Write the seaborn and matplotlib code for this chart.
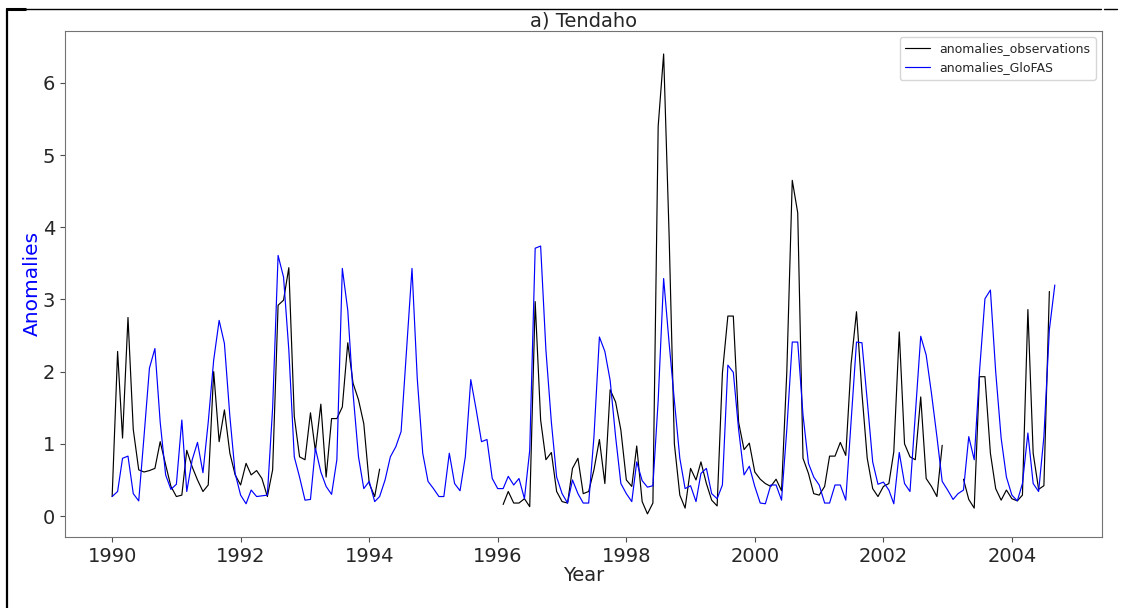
import matplotlib
matplotlib.use("Agg")
import matplotlib.pyplot as plt
import matplotlib.dates as mdates
from matplotlib.lines import Line2D
import numpy as np
import pandas as pd
import seaborn as sns

sns.set_style("white")
plt.rcParams["font.family"] = ["DejaVu Sans"]

# monthly series, Jan 1990 .. Sep 2004
start, n_months = "1990-01-01", 177

glofas = [
    0.27, 0.34, 0.80, 0.83, 0.31, 0.21, 1.10, 2.05, 2.32, 1.30, 0.57, 0.37,   # 1990
    0.44, 1.33, 0.34, 0.78, 1.02, 0.60, 1.30, 2.16, 2.71, 2.39, 1.38, 0.59,   # 1991
    0.29, 0.17, 0.36, 0.27, 0.28, 0.29, 1.50, 3.61, 3.31, 2.30, 0.82, 0.54,   # 1992
    0.22, 0.23, 0.94, 0.61, 0.41, 0.30, 0.78, 3.43, 2.85, 1.70, 0.82, 0.38,   # 1993
    0.48, 0.20, 0.27, 0.50, 0.82, 0.96, 1.17, 2.30, 3.43, 1.90, 0.87, 0.48,   # 1994
    0.38, 0.27, 0.27, 0.87, 0.45, 0.35, 0.82, 1.89, 1.47, 1.03, 1.06, 0.52,   # 1995
    0.38, 0.38, 0.55, 0.43, 0.52, 0.24, 0.91, 3.71, 3.74, 2.30, 1.30, 0.54,   # 1996
    0.31, 0.18, 0.50, 0.31, 0.18, 0.18, 1.10, 2.48, 2.28, 1.88, 1.10, 0.45,   # 1997
    0.31, 0.20, 0.75, 0.49, 0.40, 0.42, 1.60, 3.29, 2.40, 1.60, 0.80, 0.38,   # 1998
    0.42, 0.20, 0.59, 0.66, 0.31, 0.24, 0.43, 2.09, 1.99, 1.20, 0.57, 0.69,   # 1999
    0.41, 0.18, 0.17, 0.43, 0.43, 0.22, 1.20, 2.41, 2.41, 1.40, 0.73, 0.54,   # 2000
    0.43, 0.18, 0.18, 0.43, 0.43, 0.22, 1.30, 2.41, 2.40, 1.60, 0.75, 0.44,   # 2001
    0.47, 0.36, 0.17, 0.88, 0.45, 0.34, 1.40, 2.49, 2.23, 1.70, 1.10, 0.48,   # 2002
    0.36, 0.23, 0.31, 0.36, 1.10, 0.78, 2.00, 3.01, 3.13, 2.00, 1.08, 0.54,   # 2003
    0.29, 0.21, 0.45, 1.15, 0.45, 0.34, 1.10, 2.58, 3.20,                     # 2004
]

nan = np.nan
observations = [
    0.27, 2.28, 1.08, 2.75, 1.20, 0.64, 0.61, 0.63, 0.66, 1.03, 0.71, 0.41,   # 1990
    0.27, 0.29, 0.91, 0.68, 0.50, 0.34, 0.43, 2.00, 1.03, 1.47, 0.87, 0.57,   # 1991
    0.43, 0.73, 0.57, 0.63, 0.52, 0.27, 0.64, 2.92, 2.99, 3.44, 1.38, 0.82,   # 1992
    0.78, 1.43, 0.90, 1.55, 0.54, 1.35, 1.35, 1.51, 2.40, 1.84, 1.61, 1.28,   # 1993
    0.45, 0.27, 0.65, nan, nan, nan, nan, nan, nan, nan, nan, nan,            # 1994
    nan, nan, nan, nan, nan, nan, nan, nan, nan, nan, nan, nan,               # 1995
    nan, 0.16, 0.34, 0.18, 0.18, 0.24, 0.13, 2.97, 1.33, 0.78, 0.88, 0.34,    # 1996
    0.20, 0.18, 0.66, 0.80, 0.31, 0.34, 0.64, 1.06, 0.45, 1.75, 1.58, 1.19,   # 1997
    0.50, 0.41, 0.97, 0.20, 0.03, 0.18, 5.40, 6.40, 3.90, 1.00, 0.29, 0.11,   # 1998
    0.66, 0.50, 0.75, 0.45, 0.22, 0.14, 1.98, 2.77, 2.77, 1.30, 0.92, 1.01,   # 1999
    0.61, 0.51, 0.45, 0.41, 0.51, 0.35, 2.00, 4.65, 4.20, 0.80, 0.59, 0.31,   # 2000
    0.29, 0.41, 0.83, 0.83, 1.02, 0.84, 2.10, 2.83, 1.70, 0.80, 0.38, 0.27,   # 2001
    0.41, 0.45, 0.89, 2.55, 1.00, 0.82, 0.78, 1.65, 0.52, 0.41, 0.27, 0.98,   # 2002
    nan, nan, nan, 0.51, 0.23, 0.11, 1.93, 1.93, 0.87, 0.38, 0.22, 0.36,      # 2003
    0.24, 0.21, 0.29, 2.86, 0.87, 0.37, 0.42, 3.11, nan,                      # 2004
]

dates = pd.date_range(start, periods=n_months, freq="MS")

df = pd.DataFrame({"date": dates, "obs": observations, "glofas": glofas})
# segment id so the observation line breaks at missing months
df["seg"] = df["obs"].isna().cumsum()
obs = df.dropna(subset=["obs"])

fig, ax = plt.subplots(figsize=(11.21, 6.08), dpi=100)
fig.subplots_adjust(left=0.058, right=0.983, top=0.949, bottom=0.117)

sns.lineplot(data=obs, x="date", y="obs", units="seg", estimator=None,
             color="black", lw=0.85, ax=ax, legend=False)
sns.lineplot(data=df, x="date", y="glofas", color="blue", lw=0.85, ax=ax,
             legend=False)

ax.xaxis.set_major_locator(mdates.YearLocator(2))
ax.xaxis.set_major_formatter(mdates.DateFormatter("%Y"))
ax.tick_params(axis="both", labelsize=14, length=3.5, width=0.8,
               bottom=True, left=True, color="0.3")
for s in ax.spines.values():
    s.set_color("0.45")
    s.set_linewidth(0.8)

ax.set_title("a) Tendaho", fontsize=14, pad=3)
ax.set_xlabel("Year", fontsize=14, labelpad=0)
ax.set_ylabel("Anomalies", fontsize=14.5, color="blue", labelpad=1)

handles = [Line2D([], [], color="black", lw=0.85),
           Line2D([], [], color="blue", lw=0.85)]
ax.legend(handles, ["anomalies_observations", "anomalies_GloFAS"],
          loc="upper right", fontsize=9, frameon=True)

# screenshot frame lines
fig.add_artist(Line2D([0.0065, 0.0065], [0.0, 0.986], color="black", lw=1.6,
                      transform=fig.transFigure))
fig.add_artist(Line2D([0.0065, 0.982], [0.986, 0.986], color="black", lw=1.0,
                      transform=fig.transFigure))
fig.add_artist(Line2D([0.0065, 0.022], [0.986, 0.986], color="black", lw=2.2,
                      transform=fig.transFigure))
fig.add_artist(Line2D([0.985, 0.996], [0.985, 0.985], color="black", lw=1.0,
                      transform=fig.transFigure))

fig.savefig("out.png", dpi=100)
